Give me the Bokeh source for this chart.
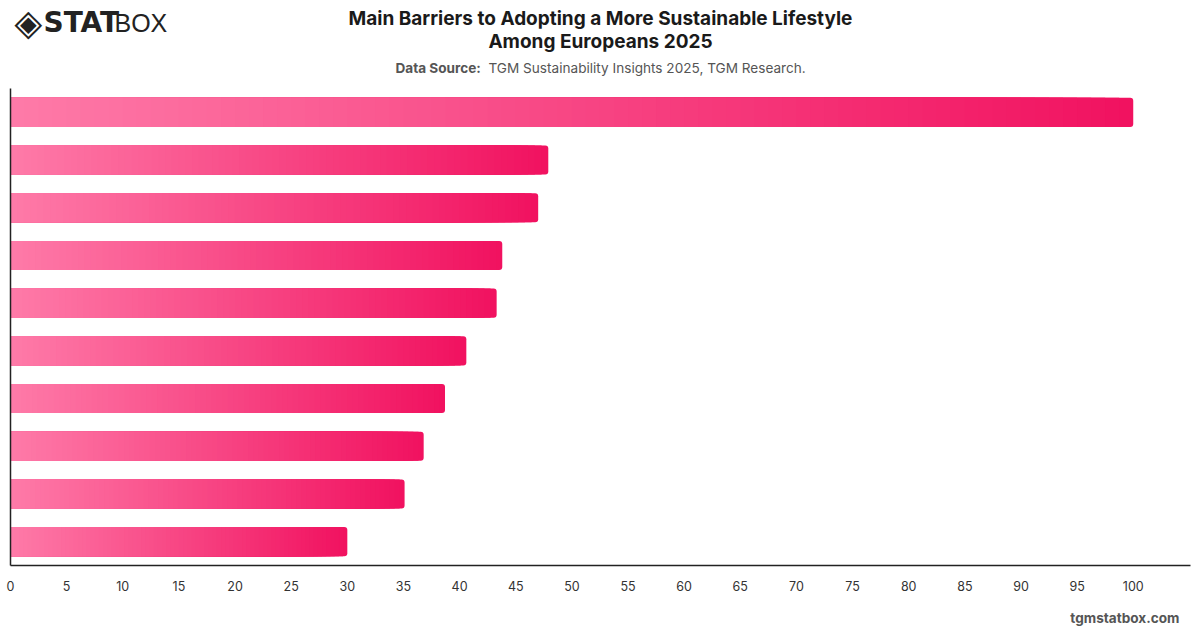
from bokeh.plotting import figure
from bokeh.layouts import column
from bokeh.models import Range1d, FixedTicker, Label, ColumnDataSource
from bokeh.embed import file_html
from bokeh.resources import INLINE

# ---- data ----
ranks = [1, 2, 3, 4, 5, 6, 7, 8, 9, 10]
values = [100.0, 47.9, 47.0, 43.8, 43.3, 40.6, 38.7, 36.8, 35.1, 30.0]
x_ticks = list(range(0, 101, 5))

title_line1 = "Main Barriers to Adopting a More Sustainable Lifestyle"
title_line2 = "Among Europeans 2025"
source_bold = "Data Source:"
source_rest = "TGM Sustainability Insights 2025, TGM Research."
footer = "tgmstatbox.com"

FONT = "Inter"
c_left = (254, 122, 168)
c_right = (241, 18, 96)
N_SLICES = 80

W, H = 1200, 628
HEADER_H = 80
FOOTER_H = 28
MAIN_H = H - HEADER_H - FOOTER_H
X_SHIFT = -10  # compensates the observed horizontal offset of screen-unit labels


def blank_fig(h):
    f = figure(width=W, height=h, output_backend="svg", toolbar_location=None,
               x_axis_location=None, y_axis_location=None,
               x_range=Range1d(0, 1), y_range=Range1d(0, 1),
               min_border=0, min_border_left=0, min_border_right=0,
               min_border_top=0, min_border_bottom=0)
    f.grid.visible = False
    f.outline_line_color = None
    f.border_fill_color = "white"
    f.background_fill_color = "white"
    return f


def lab(f, h, cx, cy, text, size, color, style="normal", align="left", font=FONT):
    f.add_layout(Label(x=cx + X_SHIFT, y=h - cy, x_units="screen", y_units="screen",
                       text=text, text_font=font, text_font_size=size, text_color=color,
                       text_font_style=style, text_align=align, text_baseline="middle"))


# ---------- header ----------
hdr = blank_fig(HEADER_H)
lab(hdr, HEADER_H, 600, 18, title_line1, "19px", "#1a1a1a", "bold", "center")
lab(hdr, HEADER_H, 600, 41, title_line2, "19px", "#1a1a1a", "bold", "center")
lab(hdr, HEADER_H, 395, 67, source_bold, "13.6px", "#555555", "bold", "left")
lab(hdr, HEADER_H, 488, 67, source_rest, "13.6px", "#555555", "normal", "left")
# logo
lab(hdr, HEADER_H, 14, 22, "◈", "36px", "#222222", "normal", "left", "DejaVu Sans")
lab(hdr, HEADER_H, 43, 22, "STAT", "28px", "#222222", "bold", "left", "DejaVu Sans")
lab(hdr, HEADER_H, 114, 22, "BOX", "25px", "#222222", "normal", "left", "Liberation Sans")

# ---------- main chart ----------
p = figure(width=W, height=MAIN_H, output_backend="svg", toolbar_location=None,
           x_range=Range1d(0, 105.1), y_range=Range1d(10.5, 0.5),
           min_border_left=10, min_border_right=10, min_border_top=88 - HEADER_H,
           min_border_bottom=(HEADER_H + MAIN_H) - 565)
p.outline_line_color = None
p.grid.grid_line_color = None
p.background_fill_color = "white"
p.border_fill_color = "white"

# gradient bars: overlapping slices from 0, widest (darkest) drawn first
def slices(idx_list):
    rights, ys, colors = [], [], []
    for i in idx_list:
        t = i / (N_SLICES - 1)
        col = "#%02x%02x%02x" % tuple(int(round(a + (b - a) * t)) for a, b in zip(c_left, c_right))
        for r, v in zip(ranks, values):
            rights.append(v * (i + 1) / N_SLICES)
            ys.append(r)
            colors.append(col)
    return ColumnDataSource(dict(right=rights, y=ys, color=colors))

# full-length darkest slice with rounded end
p.hbar(y="y", left=0, right="right", height=0.61, source=slices([N_SLICES - 1]),
       fill_color="color", line_color=None, border_radius=3)
p.hbar(y="y", left=0, right="right", height=0.61,
       source=slices(list(reversed(range(N_SLICES - 1)))),
       fill_color="color", line_color=None)

# axes
p.xaxis.ticker = FixedTicker(ticks=x_ticks)
p.xaxis.major_tick_line_color = None
p.xaxis.minor_tick_line_color = None
p.xaxis.axis_line_color = "#222222"
p.xaxis.axis_line_width = 1.5
p.xaxis.major_label_text_font = FONT
p.xaxis.major_label_text_font_size = "12.5px"
p.xaxis.major_label_text_color = "#333333"
p.xaxis.major_label_standoff = 9

p.yaxis.ticker = FixedTicker(ticks=[])
p.yaxis.major_tick_out = 0
p.yaxis.minor_tick_out = 0
p.yaxis.major_label_standoff = 0
p.yaxis.axis_line_color = "#222222"
p.yaxis.axis_line_width = 1.5

# ---------- footer ----------
ftr = blank_fig(FOOTER_H)
lab(ftr, FOOTER_H, 1179, 617 - (H - FOOTER_H), footer, "13.6px", "#555555", "bold", "right")

layout = column(hdr, p, ftr, spacing=0)
open("out.html", "w").write(file_html(layout, INLINE))
